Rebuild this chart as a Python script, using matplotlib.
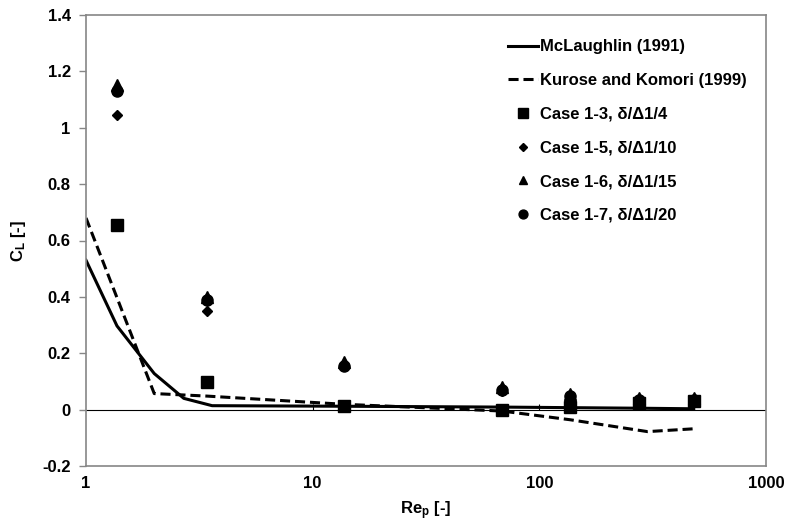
import matplotlib
matplotlib.use("Agg")
import matplotlib.pyplot as plt
from matplotlib.ticker import FixedLocator, FuncFormatter, NullLocator

# fonts: Arial-like bold everywhere
plt.rcParams['font.family'] = ['Liberation Sans', 'DejaVu Sans']
plt.rcParams['font.weight'] = 'bold'
plt.rcParams['axes.labelweight'] = 'bold'
plt.rcParams['font.size'] = 12
plt.rcParams['mathtext.fontset'] = 'custom'
plt.rcParams['mathtext.rm'] = 'Liberation Sans:bold'
plt.rcParams['mathtext.it'] = 'Liberation Sans:bold'
plt.rcParams['mathtext.default'] = 'rm'

# correlation curves
re_mcl = [1, 1.37, 2.0, 2.7, 3.6, 13.7, 68.4, 137, 274, 480]
cl_mcl = [0.53, 0.297, 0.128, 0.04, 0.014, 0.012, 0.009, 0.007, 0.005, 0.003]
re_kk = [1, 2.0, 3.42, 13.7, 68.4, 137, 300, 480]
cl_kk = [0.68, 0.057, 0.048, 0.019, -0.005, -0.036, -0.078, -0.068]

# simulation cases
re_case = [1.37, 3.42, 13.7, 68.4, 137, 274, 480]
cl_case13 = [0.655, 0.097, 0.013, 0.0, 0.01, 0.025, 0.03]
cl_case15 = [1.045, 0.350, 0.155, 0.065, 0.045, 0.03, 0.03]
cl_case16 = [1.15, 0.40, 0.17, 0.08, 0.055, 0.042, 0.042]
cl_case17 = [1.13, 0.39, 0.155, 0.07, 0.048, 0.035, 0.035]

fig = plt.figure(figsize=(7.87, 5.26), dpi=100)
ax = fig.add_axes([86 / 787, 60 / 526, 680 / 787, 451 / 526])

ax.plot(re_mcl, cl_mcl, color='black', lw=2.2, label='McLaughlin (1991)')
ax.plot(re_kk, cl_kk, color='black', lw=2.2, ls=(0, (3.3, 1.6)),
        label='Kurose and Komori (1999)')
ax.plot(re_case, cl_case13, 's', color='black', ms=8.5, ls='none',
        label='Case 1-3, δ/Δ1/4')
ax.plot(re_case, cl_case15, 'D', color='black', ms=5.5, ls='none',
        label='Case 1-5, δ/Δ1/10')
ax.plot(re_case, cl_case16, '^', color='black', ms=8, ls='none',
        label='Case 1-6, δ/Δ1/15')
ax.plot(re_case, cl_case17, 'o', color='black', ms=8, ls='none',
        label='Case 1-7, δ/Δ1/20')

# x axis crossing at zero, like the spreadsheet chart
ax.axhline(0, color='black', lw=0.8, zorder=1)

ax.set_xscale('log')
ax.set_xlim(1, 1000)
ax.set_ylim(-0.2, 1.4)

ax.xaxis.set_major_locator(FixedLocator([1, 10, 100, 1000]))
ax.xaxis.set_minor_locator(NullLocator())
ax.xaxis.set_major_formatter(FuncFormatter(lambda v, p: '%g' % v))
ax.tick_params(axis='x', length=0, pad=7, labelsize=12)

# small tick marks on the zero line
sec = ax.secondary_xaxis(0.125)
sec.set_xscale('log')
sec.xaxis.set_major_locator(FixedLocator([10, 100]))
sec.xaxis.set_minor_locator(NullLocator())
sec.spines['bottom'].set_visible(False)
sec.tick_params(axis='x', direction='in', length=4, width=0.8,
                labelbottom=False, color='black')

ax.yaxis.set_major_locator(FixedLocator([-0.2, 0, 0.2, 0.4, 0.6, 0.8, 1.0, 1.2, 1.4]))
ax.yaxis.set_major_formatter(FuncFormatter(lambda v, p: ('%g' % round(v, 2))))
ax.tick_params(axis='y', direction='out', length=5, width=1.0,
               color='#868686', pad=6, labelsize=12)

for s in ax.spines.values():
    s.set_color('#868686')
    s.set_linewidth(1.2)

ax.set_xlabel('Re$_\\mathregular{p}$ [-]', fontsize=12, labelpad=6)
ax.set_ylabel('C$_\\mathregular{L}$ [-]', fontsize=12, labelpad=10)

fig.legend(loc='upper left', bbox_to_anchor=(500 / 787, 1 - 31 / 526),
           frameon=False, numpoints=1, handlelength=1.8, handletextpad=0.1,
           labelspacing=1.12, borderpad=0, fontsize=12, markerscale=0.8)

fig.savefig('out.png', dpi=100)
